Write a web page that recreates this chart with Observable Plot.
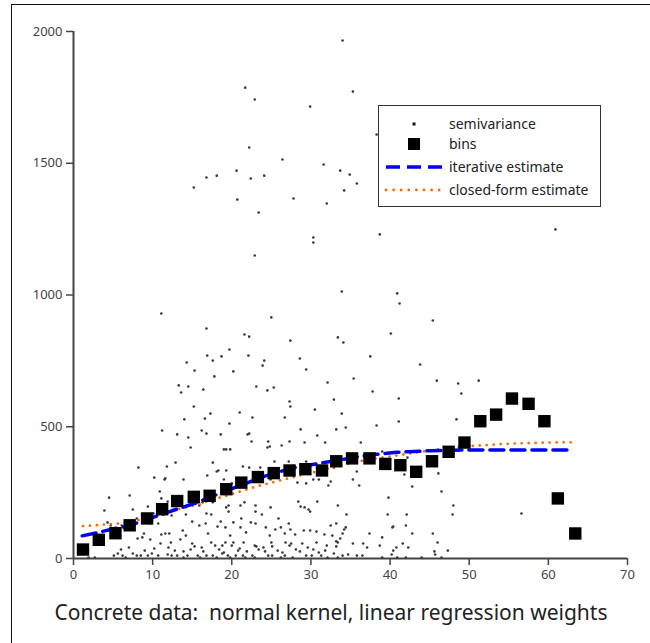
<!DOCTYPE html>
<html>
<head>
<meta charset="utf-8">
<script src="https://cdn.jsdelivr.net/npm/d3@7"></script>
<script src="https://cdn.jsdelivr.net/npm/@observablehq/plot@0.6"></script>
<style>
  html, body { margin: 0; padding: 0; background: #fff; }
  body { width: 650px; height: 643px; overflow: hidden; position: relative; font-family: "Noto Sans", sans-serif; }
  #frame { position: absolute; left: 11px; top: 4px; width: 800px; height: 800px; border-left: 1.5px solid #111; border-top: 1.5px solid #111; }
  #chart { position: absolute; left: 0; top: 0; }
  #title { position: absolute; left: 0; top: 598px; width: 662px; text-align: center; font-size: 21px; color: #222; white-space: pre; }
  #legend { position: absolute; left: 378px; top: 105px; width: 221px; height: 100px; border: 1.5px solid #333; background: #fff; }
  #legend .row { position: absolute; left: 0; height: 20px; width: 221px; }
  #legend .lab { position: absolute; left: 70px; top: 0; font-size: 14px; line-height: 20px; color: #222; white-space: nowrap; }
  #legend svg { position: absolute; left: 0; top: 0; }
</style>
</head>
<body>
<div id="frame"></div>
<div id="chart"></div>
<div id="legend"></div>
<div id="title"></div>
<script>
// ---- data ----
const titleText = "Concrete data:  normal kernel, linear regression weights";
const xTicks = [0, 10, 20, 30, 40, 50, 60, 70];
const yTicks = [0, 500, 1000, 1500, 2000];
const legendLabels = ["semivariance", "bins", "iterative estimate", "closed-form estimate"];

// semivariance cloud: [lag distance, semivariance]
const semivariance = [
  [34.0,1966],[21.7,1787],[22.9,1742],[35.3,1772],[29.9,1715],[22.2,1560],[15.2,1408],[16.8,1446],
  [18.1,1453],[20.6,1472],[22.4,1442],[24.1,1453],[26.4,1514],[20.7,1362],[23.4,1313],[27.8,1366],
  [31.6,1495],[33.7,1472],[34.2,1397],[35.8,1423],[34.9,1457],[38.3,1609],[32.0,1347],
  [30.3,1218],[30.3,1199],[38.7,1230],[22.9,1150],[11.1,930],[33.9,1013],[40.9,1006],[41.2,968],
  [45.4,903],[25.0,915],[21.6,850],[22.2,842],[16.8,873],[27.4,827],[33.4,839],[34.1,820],[40.1,854],
  [19.7,793],[16.9,770],[17.6,751],[18.7,767],[22.1,770],[24.1,751],[28.6,759],[37.5,767],[14.3,744],
  [15.3,713],[13.3,657],[17.8,691],[20.2,710],[23.9,732],[29.4,717],[43.8,736],[35.4,683],[45.9,675],
  [32.1,668],[48.6,664],[51.2,675],[60.9,1249],[56.6,171],
  [14.5,653],[13.6,630],[16.4,641],[23.1,653],[24.5,638],[25.3,649],[15.2,577],[14.0,528],[16.6,531],
  [17.3,550],[21.0,554],[22.6,535],[27.3,596],[27.4,577],[26.7,535],[30.5,565],[32.9,603],[33.9,550],
  [11.2,486],[13.1,471],[14.5,459],[16.2,486],[16.8,474],[18.6,471],[19.7,512],[22.0,471],[22.2,474],
  [22.5,444],[24.6,444],[24.8,425],[26.3,429],[27.3,444],[28.7,490],[29.2,440],[30.8,467],[31.8,440],
  [33.2,490],[34.4,497],[14.8,421],[19.0,414],[19.3,414],[19.8,414],[24.5,421],[8.2,345],[12.9,364],
  [17.6,364],[18.1,330],[18.3,334],[19.3,334],[21.4,349],[22.2,345],[23.6,345],[25.4,368],[27.2,368],
  [29.4,368],[32.9,345],[35.8,330],[10.2,307],[11.8,349],[11.5,300],[11.6,304],[13.9,300],[16.9,315],
  [18.7,273],[19.0,300],[20.0,285],[21.7,281],[23.9,300],[24.9,300],[28.3,288],[29.4,285],[30.3,300],
  [31.0,300],[32.2,277],[35.3,300],[4.5,231],[7.1,239],[10.9,254],[11.1,228],[11.9,216],[13.6,216],
  [15.9,201],[16.3,213],[17.6,213],[19.6,201],[21.1,201],[21.6,213],[23.0,201],[24.9,194],[28.4,216],
  [28.7,197],[29.2,194],[29.7,186],[29.9,178],[30.8,216],[33.4,201],[34.5,167],[3.9,182],[7.5,186],
  [9.4,197],[10.1,171],[11.4,167],[12.4,163],[14.2,167],[16.8,171],[17.4,167],[19.3,194],[19.6,178],
  [21.2,152],[23.0,178],[23.8,167],[25.9,152],[4.3,137],[4.7,125],[6.1,125],[6.9,133],[8.0,152],
  [9.4,148],[9.7,133],[10.7,133],[11.1,91],[11.6,95],[12.1,95],[15.0,140],[15.9,125],[16.7,133],
  [18.2,121],[18.6,140],[19.2,118],[20.2,137],[21.1,118],[22.4,137],[23.0,133],[24.3,118],[25.5,110],
  [26.2,118],[26.7,95],[27.2,133],[27.4,110],[29.1,106],[29.9,106],[30.7,102],[31.7,91],[32.7,87],
  [34.0,95],[34.2,110],[8.1,76],[8.7,80],[9.7,72],[11.0,57],[12.3,61],[13.5,72],[15.0,57],[15.3,46],
  [17.4,61],[17.9,49],[18.8,49],[19.2,61],[20.0,49],[20.2,61],[21.5,61],[22.9,49],[23.1,46],[25.0,61],
  [25.1,46],[26.8,61],[27.3,49],[27.5,57],[28.9,57],[30.7,61],[32.0,49],[33.4,61],[35.3,57],
  [1.9,4],[2.7,4],[5.1,11],[5.6,19],[6.2,11],[6.6,4],[7.5,19],[8.0,11],[8.5,11],[9.4,11],[9.9,19],
  [10.7,11],[11.9,15],[12.4,11],[13.1,11],[13.9,4],[14.4,11],[15.7,11],[16.0,4],[16.8,11],[17.6,11],
  [18.1,4],[18.8,19],[19.5,11],[19.8,4],[20.5,11],[21.4,11],[21.7,4],[22.6,11],[22.9,4],[24.6,11],
  [25.1,11],[26.2,4],[26.7,11],[27.7,4],[29.4,11],[30.1,11],[31.3,11],[32.1,4],[33.4,4],[34.0,11],[35.8,11],
  [37.8,634],[41.1,607],[49.0,626],[41.1,520],[38.3,505],[48.4,528],[36.3,440],[39.0,406],[42.2,383],
  [32.5,292],[36.1,277],[46.1,323],[41.8,319],[42.8,273],[46.5,254],[39.8,231],[48.0,201],[39.7,167],
  [42.1,167],[47.9,167],[32.5,125],[33.2,133],[34.4,118],[40.3,118],[40.4,121],[42.0,125],[37.4,95],
  [39.0,80],[42.8,95],[45.4,95],[33.7,76],[33.2,65],[38.7,49],[41.6,57],[42.3,42],[46.0,61],[33.2,46],
  [32.9,19],[34.7,15],[36.5,11],[39.0,4],[40.2,15],[40.9,4],[42.0,4],[44.0,4],[45.6,27],[45.7,15],
  [46.5,4],[47.3,30],[40.4,30],[40.8,42],[36.6,57],[37.1,42],
  [6.0,34],[7.0,42],[9.0,30],[10.2,38],[12.8,30],[13.9,27],[14.8,34],[16.4,27],[18.4,34],[19.0,23],
  [20.8,30],[21.9,27],[23.4,34],[24.2,27],[25.8,30],[26.4,23],[28.1,34],[28.6,27],[30.3,34],[31.0,23],
  [31.8,30],[12.0,42],[16.2,42],[21.0,38],[24.0,42],[29.6,42],[8.9,95],[13.8,106],[17.0,95],[21.8,99],
  [24.8,87],[28.0,91],[14.2,87],[19.8,87]
];

// binned semivariance
const binX = [1.2, 3.2, 5.3, 7.1, 9.3, 11.2, 13.1, 15.2, 17.2, 19.3, 21.2, 23.3, 25.3, 27.3, 29.3, 31.4, 33.2, 35.2,
              37.4, 39.4, 41.3, 43.3, 45.3, 47.4, 49.4, 51.4, 53.4, 55.4, 57.5, 59.5, 61.2, 63.4];
const binY = [34, 71, 96, 126, 152, 187, 218, 234, 238, 263, 288, 309, 324, 334, 339, 334, 369, 380,
              380, 359, 354, 329, 369, 405, 440, 521, 546, 607, 587, 521, 228, 95];

// iterative estimate (dashed blue)
const iterX = [1.1, 3, 5, 6.8, 9, 11, 13, 15.2, 17.3, 19.4, 21.5, 23.6, 25.7, 27.8, 30, 32.1, 34.2, 36.3, 38.5, 40.9, 43, 45.1, 48, 52, 56, 60, 63.1];
const iterY = [86, 98, 112, 123, 145, 166, 187, 208, 233, 258, 282, 306, 326, 344, 356, 366, 377, 388, 396, 403, 406, 409, 411, 412, 412, 412, 412];

// closed-form estimate (dotted orange)
const cfX = [1.2, 4, 6.8, 9, 11, 13, 15.2, 17.3, 19.4, 21.5, 23.6, 25.7, 27.8, 30, 32.1, 34.2, 36.3, 38.6, 40.9, 43, 45.1, 47.2, 49.3, 51.4, 53.5, 55.6, 57.7, 60, 62.9];
const cfY = [123, 129, 137, 152, 170, 185, 201, 220, 239, 258, 277, 293, 309, 325, 340, 356, 370, 381, 391, 401, 410, 418, 425, 429, 433, 436, 438, 440, 441];

// ---- build ----
const FONT = "'Noto Sans', 'Open Sans', sans-serif";
const BLUE = "#0000ff";
const ORANGE = "#ff6a00";
const AXIS = "#444";

const bins = binX.map((x, i) => ({x, y: binY[i]}));
const iter = iterX.map((x, i) => ({x, y: iterY[i]}));
const cf = cfX.map((x, i) => ({x, y: cfY[i]}));

const chart = Plot.plot({
  width: 650,
  height: 590,
  marginLeft: 73,
  marginRight: 23,
  marginTop: 31,
  marginBottom: 32,
  x: {domain: [0, 70]},
  y: {domain: [0, 2000]},
  style: {fontFamily: FONT, fontSize: "13px", color: AXIS, background: "transparent", overflow: "visible"},
  marks: [
    Plot.axisX({ticks: xTicks, tickFormat: d => String(d), tickSize: 7, tickPadding: 4, strokeWidth: 1.5, stroke: AXIS, label: null, fill: AXIS}),
    Plot.axisY({ticks: yTicks, tickFormat: d => String(d), tickSize: 7, tickPadding: 4, strokeWidth: 1.5, stroke: AXIS, label: null, fill: AXIS}),
    Plot.ruleX([0], {y1: 0, y2: 2000, stroke: AXIS, strokeWidth: 2}),
    Plot.ruleY([0], {x1: 0, x2: 70, stroke: AXIS, strokeWidth: 2}),
    Plot.dot(semivariance, {x: d => d[0], y: d => d[1], r: 1.3, fill: "#3a3a3a", stroke: null}),
    Plot.line(cf, {x: "x", y: "y", stroke: ORANGE, strokeWidth: 2.8, strokeDasharray: "0,7", strokeLinecap: "round", curve: "monotone-x"}),
    Plot.line(iter, {x: "x", y: "y", stroke: BLUE, strokeWidth: 3.5, strokeDasharray: "14,7", curve: "monotone-x"}),
    Plot.dot(bins, {x: "x", y: "y", symbol: "square", r: 7, fill: "#000", stroke: null})
  ]
});
document.getElementById("chart").appendChild(chart);

document.getElementById("title").textContent = titleText;

// legend (HTML overlay)
const legend = document.getElementById("legend");
const rowTops = [8, 28, 51, 74];
const ns = "http://www.w3.org/2000/svg";
legendLabels.forEach((lab, i) => {
  const row = document.createElement("div");
  row.className = "row";
  row.style.top = rowTops[i] + "px";
  const svg = document.createElementNS(ns, "svg");
  svg.setAttribute("width", 70); svg.setAttribute("height", 20);
  let el;
  if (i === 0) {
    el = document.createElementNS(ns, "rect");
    el.setAttribute("x", 33.5); el.setAttribute("y", 8.5); el.setAttribute("width", 3); el.setAttribute("height", 3);
    el.setAttribute("fill", "#111");
  } else if (i === 1) {
    el = document.createElementNS(ns, "rect");
    el.setAttribute("x", 29); el.setAttribute("y", 4); el.setAttribute("width", 12); el.setAttribute("height", 12);
    el.setAttribute("fill", "#000");
  } else {
    el = document.createElementNS(ns, "line");
    el.setAttribute("x1", 7); el.setAttribute("x2", 65); el.setAttribute("y1", 10); el.setAttribute("y2", 10);
    if (i === 2) {
      el.setAttribute("stroke", BLUE); el.setAttribute("stroke-width", 3.5); el.setAttribute("stroke-dasharray", "14,7");
    } else {
      el.setAttribute("stroke", ORANGE); el.setAttribute("stroke-width", 2.8); el.setAttribute("stroke-dasharray", "0,7.6");
      el.setAttribute("stroke-linecap", "round");
    }
  }
  svg.appendChild(el);
  row.appendChild(svg);
  const t = document.createElement("div");
  t.className = "lab";
  t.textContent = lab;
  row.appendChild(t);
  legend.appendChild(row);
});
</script>
</body>
</html>
